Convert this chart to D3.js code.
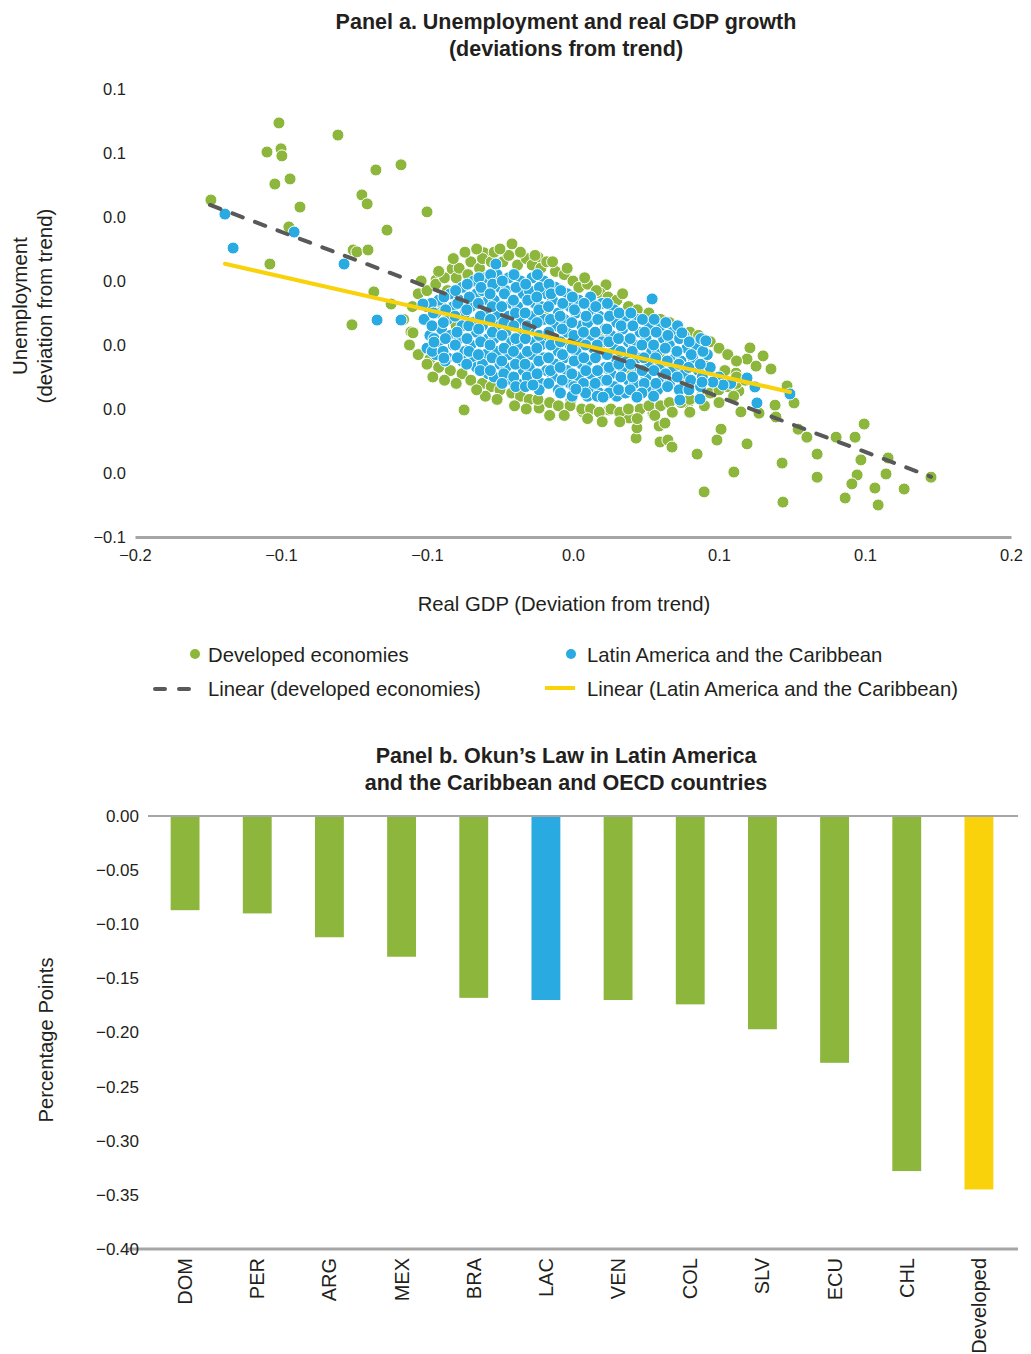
<!DOCTYPE html>
<html><head><meta charset="utf-8">
<script src="https://cdn.jsdelivr.net/npm/d3@7"></script>
<style>
body{margin:0;background:#fff;}
svg text{fill:#231f20;}
</style></head>
<body>
<svg id="chart" width="1031" height="1354"></svg>
<script>
// ---------- Panel a data ----------
const xTickValues = [-0.15,-0.10,-0.05,0,0.05,0.10,0.15];
const xTickLabels = ["−0.2","−0.1","−0.1","0.0","0.1","0.1","0.2"];
const yTickValues = [-0.06,-0.04,-0.02,0,0.02,0.04,0.06,0.08];
const yTickLabels = ["−0.1","0.0","0.0","0.0","0.0","0.0","0.1","0.1"];

const developedOutliers = [
[-0.1007,0.0694],[-0.0805,0.0656],[-0.1048,0.0603],[-0.1000,0.0613],[-0.0997,0.0591],
[-0.0675,0.0547],[-0.0589,0.0563],[-0.0969,0.0519],[-0.1021,0.0503],[-0.1240,0.0453],
[-0.0723,0.0469],[-0.0705,0.0441],[-0.0935,0.0431],[-0.0500,0.0416],[-0.0973,0.0369],
[-0.0637,0.0359],[-0.0753,0.0297],[-0.0740,0.0291],[-0.0702,0.0297],[-0.1038,0.0253],
[-0.0682,0.0166],[-0.0623,0.0128],[-0.0757,0.0063],[-0.0555,0.0041],[-0.0209,0.0316],
[-0.0305,0.0288],[-0.0120,0.0275],[-0.0469,0.0203],[-0.0414,0.0238],[-0.0373,-0.0203],
[-0.0116,-0.0197],[-0.0490,-0.0044],[-0.0548,0.0038],
[0.0606,-0.0009],[0.0651,-0.0034],[0.0596,-0.0044],[0.0627,-0.0066],[0.0678,-0.0075],
[0.0558,-0.0088],[0.0568,-0.0144],[0.0733,-0.0128],[0.0757,-0.0181],[0.0692,-0.0188],
[0.0695,-0.0225],[0.0575,-0.0209],[0.0637,-0.0213],[0.0507,-0.0263],[0.0493,-0.0297],
[0.0596,-0.0309],[0.0425,-0.0341],[0.0551,-0.0397],[0.0449,-0.0459],[0.0716,-0.0369],
[0.0719,-0.0491],[0.0771,-0.0263],[0.0801,-0.0288],[0.0836,-0.0341],[0.0836,-0.0413],
[0.0901,-0.0288],[0.0966,-0.0288],[0.0997,-0.0247],[0.0986,-0.0359],[0.0973,-0.0406],
[0.0955,-0.0434],[0.0932,-0.0478],[0.1034,-0.0447],[0.1079,-0.0353],[0.1072,-0.0403],
[0.1134,-0.0450],[0.1045,-0.0500],[0.1226,-0.0413],
[0.0216,-0.0291],[0.0219,-0.0259],[0.0192,-0.0228],[0.0295,-0.0253],[0.0315,-0.0244],
[0.0298,-0.0303],[0.0325,-0.0297],[0.0339,-0.0319],[0.0123,-0.0203],[0.0274,-0.0213],
[0.0394,-0.0181],[0.0240,0.0094],[0.0271,0.0078],[0.0113,0.0188],[0.0092,0.0163],
[0.0034,-0.0209],[-0.0007,-0.0172]
];
const developedCluster = [
[-0.058,0.008],[-0.055,0.012],[-0.053,0.016],[-0.050,0.017],[-0.047,0.019],[-0.044,0.021],
[-0.043,0.017],[-0.040,0.021],[-0.039,0.024],[-0.036,0.022],[-0.035,0.026],[-0.032,0.024],
[-0.031,0.027],[-0.028,0.026],[-0.027,0.029],[-0.024,0.026],[-0.022,0.028],[-0.019,0.025],
[-0.016,0.027],[-0.014,0.025],[-0.011,0.024],[-0.009,0.026],[-0.006,0.023],[-0.003,0.022],
[0.000,0.020],[0.002,0.018],[0.005,0.019],[0.008,0.017],[0.012,0.015],[0.015,0.014],
[0.019,0.012],[0.022,0.011],[0.026,0.010],[0.030,0.008],[0.033,0.007],[0.036,0.006],
[0.040,0.004],[0.043,0.003],[0.047,0.001],[0.050,-0.001],[0.053,-0.003],[0.056,-0.005],
[-0.052,0.020],[-0.046,0.023],[-0.041,0.027],[-0.037,0.029],[-0.033,0.030],[-0.025,0.030],
[-0.018,0.029],[-0.013,0.028],[-0.007,0.026],[-0.002,0.024],[0.004,0.021],[0.017,0.016],
[-0.056,0.000],[-0.053,-0.003],[-0.050,-0.006],[-0.046,-0.007],[-0.042,-0.008],[-0.038,-0.009],
[-0.035,-0.011],[-0.031,-0.012],[-0.028,-0.013],[-0.025,-0.014],[-0.021,-0.015],[-0.018,-0.016],
[-0.015,-0.017],[-0.012,-0.017],[-0.008,-0.018],[-0.005,-0.019],[-0.001,-0.019],[0.003,-0.020],
[0.006,-0.020],[0.009,-0.021],[0.013,-0.020],[0.016,-0.021],[0.019,-0.020],[0.023,-0.020],
[0.026,-0.019],[0.030,-0.019],[0.033,-0.018],[0.037,-0.018],[0.040,-0.017],[0.044,-0.016],
[0.047,-0.015],[0.050,-0.014],[0.053,-0.013],[0.056,-0.012],[0.059,-0.011],
[-0.030,-0.016],[-0.020,-0.019],[-0.008,-0.022],[0.005,-0.023],[0.016,-0.024],[0.040,-0.021],
[0.045,-0.019],[-0.044,-0.011],[0.028,-0.022],[0.050,-0.018],[0.055,-0.016],
[-0.048,-0.010],[-0.040,-0.012],[-0.033,-0.014],[-0.026,-0.017],[-0.016,-0.020],[-0.003,-0.022],
[0.010,-0.024],[0.022,-0.023],[0.034,-0.021],
[-0.040,0.006],[-0.030,0.014],[-0.020,-0.006],[-0.010,0.010],[0.000,-0.010],[0.010,0.004],
[0.020,-0.008],[0.030,-0.004],[0.038,-0.010],[-0.045,0.012],[0.045,-0.006],[0.052,-0.008],
[0.056,-0.010]
];
const lacOutliers = [
[-0.1192,0.0409],[-0.0955,0.0353],[-0.1164,0.0303],[-0.0784,0.0253],[-0.0671,0.0078],
[-0.0589,0.0078],[-0.0264,0.0253],[0.0271,0.0144],[0.0596,-0.0103],[0.0623,-0.0131],
[0.0630,-0.0181],[0.0743,-0.0153],[0.0455,0.0013],[0.0514,-0.0125],[0.0479,-0.0116],
[0.0442,-0.0116],[0.0435,-0.0169],[-0.0476,0.0009],[-0.0442,-0.0041],[-0.0514,0.0128],
[0.0373,0.0038],[-0.0137,-0.0125],[0.0010,-0.0138],[0.0103,-0.0163],[0.0219,-0.0163],
[0.0366,-0.0172]
];
const lacCluster = [
[-0.050,0.012],[-0.051,0.008],[-0.049,0.003],[-0.050,-0.001],
[-0.046,0.014],[-0.047,0.010],[-0.045,0.005],[-0.046,0.001],[-0.047,-0.003],
[-0.042,0.016],[-0.041,0.012],[-0.043,0.008],[-0.042,0.003],[-0.041,0.000],[-0.043,-0.004],
[-0.038,0.018],[-0.039,0.014],[-0.037,0.010],[-0.038,0.006],[-0.039,0.002],[-0.037,-0.002],[-0.038,-0.005],
[-0.034,0.020],[-0.033,0.016],[-0.035,0.012],[-0.034,0.007],[-0.033,0.004],[-0.035,0.000],[-0.034,-0.004],[-0.033,-0.007],
[-0.030,0.021],[-0.031,0.017],[-0.029,0.014],[-0.030,0.010],[-0.031,0.006],[-0.029,0.002],[-0.030,-0.003],[-0.031,-0.006],[-0.029,-0.009],
[-0.026,0.022],[-0.025,0.018],[-0.027,0.014],[-0.026,0.009],[-0.025,0.006],[-0.027,0.002],[-0.026,-0.002],[-0.025,-0.006],[-0.027,-0.010],
[-0.022,0.021],[-0.023,0.017],[-0.021,0.013],[-0.022,0.009],[-0.023,0.004],[-0.021,0.001],[-0.022,-0.003],[-0.023,-0.007],[-0.021,-0.011],
[-0.018,0.020],[-0.017,0.016],[-0.019,0.012],[-0.018,0.007],[-0.017,0.004],[-0.019,0.000],[-0.018,-0.004],[-0.017,-0.008],[-0.019,-0.012],
[-0.014,0.021],[-0.015,0.017],[-0.013,0.013],[-0.014,0.009],[-0.015,0.005],[-0.013,0.001],[-0.014,-0.003],[-0.015,-0.007],[-0.013,-0.011],
[-0.010,0.020],[-0.009,0.016],[-0.011,0.012],[-0.010,0.008],[-0.009,0.003],[-0.011,0.000],[-0.010,-0.004],[-0.009,-0.008],[-0.011,-0.012],
[-0.006,0.018],[-0.007,0.014],[-0.005,0.010],[-0.006,0.006],[-0.007,0.002],[-0.005,-0.002],[-0.006,-0.006],[-0.007,-0.010],[-0.005,-0.014],
[-0.002,0.016],[-0.001,0.012],[-0.003,0.008],[-0.002,0.004],[-0.001,0.000],[-0.003,-0.004],[-0.002,-0.008],[-0.001,-0.012],
[0.002,0.014],[0.001,0.010],[0.003,0.006],[0.002,0.002],[0.001,-0.002],[0.003,-0.006],[0.002,-0.010],[0.001,-0.014],
[0.006,0.015],[0.007,0.011],[0.005,0.007],[0.006,0.003],[0.007,-0.001],[0.005,-0.005],[0.006,-0.009],[0.007,-0.013],[0.005,-0.016],
[0.010,0.013],[0.009,0.009],[0.011,0.005],[0.010,0.001],[0.009,-0.003],[0.011,-0.007],[0.010,-0.011],[0.009,-0.015],
[0.014,0.011],[0.015,0.007],[0.013,0.003],[0.014,-0.001],[0.015,-0.005],[0.013,-0.009],[0.014,-0.013],[0.015,-0.016],
[0.018,0.009],[0.017,0.005],[0.019,0.001],[0.018,-0.003],[0.017,-0.007],[0.019,-0.011],[0.018,-0.015],
[0.022,0.008],[0.023,0.004],[0.021,0.000],[0.022,-0.004],[0.023,-0.008],[0.021,-0.012],[0.022,-0.016],
[0.026,0.006],[0.025,0.002],[0.027,-0.002],[0.026,-0.006],[0.025,-0.010],[0.027,-0.014],
[0.030,0.006],[0.031,0.002],[0.029,-0.002],[0.030,-0.006],[0.031,-0.010],[0.029,-0.014],
[0.034,0.004],[0.033,0.000],[0.035,-0.004],[0.034,-0.008],[0.033,-0.012],
[0.038,0.003],[0.039,-0.001],[0.037,-0.005],[0.038,-0.009],[0.039,-0.013],
[0.042,0.000],[0.041,-0.004],[0.043,-0.008],[0.042,-0.012],
[0.046,-0.003],[0.047,-0.007],[0.050,-0.010],[0.054,-0.012]
];
const lacClusterB = [
[-0.0485,0.013],[-0.0478,0.010],[-0.0483,0.006],[-0.0476,0.002],[-0.0482,-0.002],
[-0.0442,0.015],[-0.0436,0.011],[-0.0444,0.007],[-0.0437,0.002],[-0.0445,-0.002],[-0.0438,-0.005],
[-0.0402,0.017],[-0.0395,0.013],[-0.0404,0.009],[-0.0397,0.004],[-0.0403,0.000],[-0.0396,-0.004],
[-0.0362,0.019],[-0.0355,0.015],[-0.0364,0.011],[-0.0357,0.006],[-0.0363,0.002],[-0.0356,-0.002],[-0.0364,-0.006],
[-0.0322,0.021],[-0.0315,0.018],[-0.0324,0.013],[-0.0317,0.009],[-0.0323,0.005],[-0.0316,0.001],[-0.0324,-0.003],[-0.0318,-0.008],
[-0.0282,0.022],[-0.0275,0.019],[-0.0284,0.016],[-0.0277,0.012],[-0.0283,0.008],[-0.0276,0.004],[-0.0284,0.000],[-0.0277,-0.004],[-0.0283,-0.008],
[-0.0242,0.020],[-0.0235,0.016],[-0.0244,0.012],[-0.0237,0.007],[-0.0243,0.003],[-0.0236,-0.001],[-0.0244,-0.005],[-0.0237,-0.009],[-0.0243,-0.012],
[-0.0202,0.022],[-0.0195,0.018],[-0.0204,0.014],[-0.0197,0.010],[-0.0203,0.006],[-0.0196,0.002],[-0.0204,-0.002],[-0.0197,-0.006],[-0.0203,-0.010],[-0.0196,-0.013],
[-0.0162,0.019],[-0.0155,0.014],[-0.0164,0.010],[-0.0157,0.006],[-0.0163,0.002],[-0.0156,-0.002],[-0.0164,-0.006],[-0.0157,-0.010],[-0.0163,-0.013],
[-0.0122,0.022],[-0.0115,0.018],[-0.0124,0.015],[-0.0117,0.011],[-0.0123,0.007],[-0.0116,0.003],[-0.0124,-0.001],[-0.0117,-0.005],[-0.0123,-0.009],[-0.0116,-0.014],
[-0.0082,0.019],[-0.0075,0.016],[-0.0084,0.012],[-0.0077,0.008],[-0.0083,0.004],[-0.0076,0.000],[-0.0084,-0.004],[-0.0077,-0.008],[-0.0083,-0.012],
[-0.0042,0.017],[-0.0035,0.013],[-0.0044,0.009],[-0.0037,0.005],[-0.0043,0.001],[-0.0036,-0.003],[-0.0044,-0.007],[-0.0037,-0.011],[-0.0043,-0.015],
[-0.0002,0.015],[0.0005,0.011],[-0.0004,0.007],[0.0003,0.003],[-0.0003,-0.001],[0.0004,-0.005],[-0.0004,-0.009],[0.0003,-0.013],[-0.0003,-0.016],
[0.0038,0.013],[0.0045,0.009],[0.0036,0.004],[0.0043,0.000],[0.0037,-0.004],[0.0044,-0.008],[0.0036,-0.012],[0.0043,-0.015],
[0.0078,0.012],[0.0085,0.008],[0.0076,0.004],[0.0083,0.000],[0.0077,-0.004],[0.0084,-0.008],[0.0076,-0.012],[0.0083,-0.016],
[0.0118,0.013],[0.0125,0.009],[0.0116,0.005],[0.0123,0.001],[0.0117,-0.003],[0.0124,-0.007],[0.0116,-0.011],[0.0123,-0.015],
[0.0158,0.010],[0.0165,0.006],[0.0156,0.002],[0.0163,-0.002],[0.0157,-0.006],[0.0164,-0.010],[0.0156,-0.014],
[0.0198,0.010],[0.0205,0.006],[0.0196,0.002],[0.0203,-0.002],[0.0197,-0.006],[0.0204,-0.010],[0.0196,-0.014],
[0.0238,0.008],[0.0245,0.004],[0.0236,0.000],[0.0243,-0.004],[0.0237,-0.008],[0.0244,-0.012],[0.0236,-0.015],
[0.0278,0.008],[0.0285,0.004],[0.0276,0.000],[0.0283,-0.004],[0.0277,-0.008],[0.0284,-0.012],[0.0276,-0.016],
[0.0318,0.007],[0.0325,0.003],[0.0316,-0.001],[0.0323,-0.005],[0.0317,-0.009],[0.0324,-0.013],
[0.0358,0.006],[0.0365,0.002],[0.0356,-0.002],[0.0363,-0.006],[0.0357,-0.010],[0.0364,-0.014],
[0.0398,0.001],[0.0405,-0.003],[0.0396,-0.007],[0.0403,-0.011],[0.0397,-0.014],
[0.0438,0.002],[0.0445,-0.002],[0.0436,-0.006],[0.0443,-0.010],[0.0437,-0.013]
];
// Linear fits: [intercept, slope, xStart, xEnd]
const trendDeveloped = [0.0010, -0.344, -0.1243, 0.1226];
const trendLAC = [0.0007, -0.207, -0.1192, 0.0743];

// ---------- Panel b data ----------
const countries = ["DOM","PER","ARG","MEX","BRA","LAC","VEN","COL","SLV","ECU","CHL","Developed"];
const okunValues = [-0.087,-0.090,-0.112,-0.130,-0.168,-0.170,-0.170,-0.174,-0.197,-0.228,-0.328,-0.345];
const barYTicks = [0,-0.05,-0.10,-0.15,-0.20,-0.25,-0.30,-0.35,-0.40];

const GREEN = "#8cb63c", BLUE = "#29abe2", YELLOW = "#f9d20c", GRAY = "#595959", AXIS = "#a6a6a6";
const FR = "'Liberation Sans',Arial,sans-serif";

const svg = d3.select("#chart");

// ===== Panel a =====
const x = d3.scaleLinear().domain([-0.15,0.15]).range([135,1011]);
const y = d3.scaleLinear().domain([-0.06,0.08]).range([537,89]);

svg.append("text").attr("x",566).attr("y",29).attr("text-anchor","middle")
  .style("font-family",FR).style("font-weight","bold").style("font-size","21.5px")
  .text("Panel a. Unemployment and real GDP growth");
svg.append("text").attr("x",566).attr("y",56).attr("text-anchor","middle")
  .style("font-family",FR).style("font-weight","bold").style("font-size","21.5px")
  .text("(deviations from trend)");

const gx = svg.append("g").attr("transform","translate(0,537)")
  .call(d3.axisBottom(x).tickValues(xTickValues).tickSize(0).tickPadding(12)
    .tickFormat((d,i)=>xTickLabels[i]));
gx.select(".domain").attr("stroke",AXIS).attr("stroke-width",3);
gx.selectAll("text").style("font-family",FR).style("font-size","16.5px").attr("fill","#231f20");

const gy = svg.append("g").attr("transform","translate(126,0)")
  .call(d3.axisLeft(y).tickValues(yTickValues).tickSize(0).tickPadding(0)
    .tickFormat((d,i)=>yTickLabels[i]));
gy.select(".domain").remove();
gy.selectAll("text").style("font-family",FR).style("font-size","16.5px").attr("fill","#231f20");

svg.append("text").attr("transform","translate(27,306) rotate(-90)").attr("text-anchor","middle")
  .style("font-family",FR).style("font-size","20.5px").text("Unemployment");
svg.append("text").attr("transform","translate(52,306) rotate(-90)").attr("text-anchor","middle")
  .style("font-family",FR).style("font-size","20.5px").text("(deviation from trend)");
svg.append("text").attr("x",564).attr("y",611).attr("text-anchor","middle")
  .style("font-family",FR).style("font-size","20.3px").text("Real GDP (Deviation from trend)");

const dots = svg.append("g");
dots.selectAll("circle.dev").data(developedOutliers.concat(developedCluster)).join("circle")
  .attr("class","dev").attr("cx",d=>x(d[0])).attr("cy",d=>y(d[1])).attr("r",6)
  .attr("fill",GREEN).attr("stroke","#fff").attr("stroke-width",1);
dots.selectAll("circle.lac").data(lacCluster.concat(lacClusterB, lacOutliers)).join("circle")
  .attr("class","lac").attr("cx",d=>x(d[0])).attr("cy",d=>y(d[1])).attr("r",6)
  .attr("fill",BLUE).attr("stroke","#fff").attr("stroke-width",1);

function trendLine(t){ return [[t[2], t[0]+t[1]*t[2]],[t[3], t[0]+t[1]*t[3]]]; }
const line = d3.line().x(d=>x(d[0])).y(d=>y(d[1]));
svg.append("path").attr("d",line(trendLine(trendDeveloped))).attr("fill","none")
  .attr("stroke",GRAY).attr("stroke-width",4).attr("stroke-dasharray","11,13").attr("stroke-linecap","round");
svg.append("path").attr("d",line(trendLine(trendLAC))).attr("fill","none")
  .attr("stroke",YELLOW).attr("stroke-width",4).attr("stroke-linecap","round");

// Legend
const lg = svg.append("g").style("font-family",FR).style("font-size","20.3px");
lg.append("circle").attr("cx",195).attr("cy",654).attr("r",5).attr("fill",GREEN);
lg.append("text").attr("x",208).attr("y",662).text("Developed economies");
lg.append("circle").attr("cx",571).attr("cy",654).attr("r",5).attr("fill",BLUE);
lg.append("text").attr("x",587).attr("y",662).text("Latin America and the Caribbean");
lg.append("line").attr("x1",155).attr("x2",193).attr("y1",689).attr("y2",689)
  .attr("stroke",GRAY).attr("stroke-width",4).attr("stroke-dasharray","10,14").attr("stroke-linecap","round");
lg.append("text").attr("x",208).attr("y",696).text("Linear (developed economies)");
lg.append("line").attr("x1",545).attr("x2",575).attr("y1",688).attr("y2",688)
  .attr("stroke",YELLOW).attr("stroke-width",4);
lg.append("text").attr("x",587).attr("y",696).text("Linear (Latin America and the Caribbean)");

// ===== Panel b =====
svg.append("text").attr("x",566).attr("y",763).attr("text-anchor","middle")
  .style("font-family",FR).style("font-weight","bold").style("font-size","21.5px")
  .text("Panel b. Okun’s Law in Latin America");
svg.append("text").attr("x",566).attr("y",790).attr("text-anchor","middle")
  .style("font-family",FR).style("font-weight","bold").style("font-size","21.5px")
  .text("and the Caribbean and OECD countries");

const xb = d3.scaleBand().domain(countries).range([149,1015]).paddingInner(0.6).paddingOuter(0.3);
const yb = d3.scaleLinear().domain([-0.40,0]).range([1249,816]);

const barColor = c => c==="LAC" ? BLUE : (c==="Developed" ? YELLOW : GREEN);
svg.append("g").selectAll("rect").data(countries).join("rect")
  .attr("x",d=>xb(d)).attr("width",xb.bandwidth())
  .attr("y",yb(0)).attr("height",(d,i)=>yb(okunValues[i])-yb(0))
  .attr("fill",barColor);

svg.append("line").attr("x1",148).attr("x2",1018).attr("y1",yb(0)).attr("y2",yb(0))
  .attr("stroke",AXIS).attr("stroke-width",2);
svg.append("line").attr("x1",127).attr("x2",1018).attr("y1",yb(-0.40)).attr("y2",yb(-0.40))
  .attr("stroke",AXIS).attr("stroke-width",3);

const gyb = svg.append("g").attr("transform","translate(139,0)")
  .call(d3.axisLeft(yb).tickValues(barYTicks).tickSize(0).tickPadding(0)
    .tickFormat(d=> d===0 ? "0.00" : "−"+Math.abs(d).toFixed(2)));
gyb.select(".domain").remove();
gyb.selectAll("text").style("font-family",FR).style("font-size","17px").attr("fill","#231f20");

svg.append("text").attr("transform","translate(53,1040) rotate(-90)").attr("text-anchor","middle")
  .style("font-family",FR).style("font-size","20.2px").text("Percentage Points");

svg.append("g").selectAll("text").data(countries).join("text")
  .attr("transform",d=>`translate(${xb(d)+xb.bandwidth()/2+7},1258) rotate(-90)`)
  .attr("text-anchor","end")
  .style("font-family",FR).style("font-size","20px").text(d=>d);
</script>
</body></html>
